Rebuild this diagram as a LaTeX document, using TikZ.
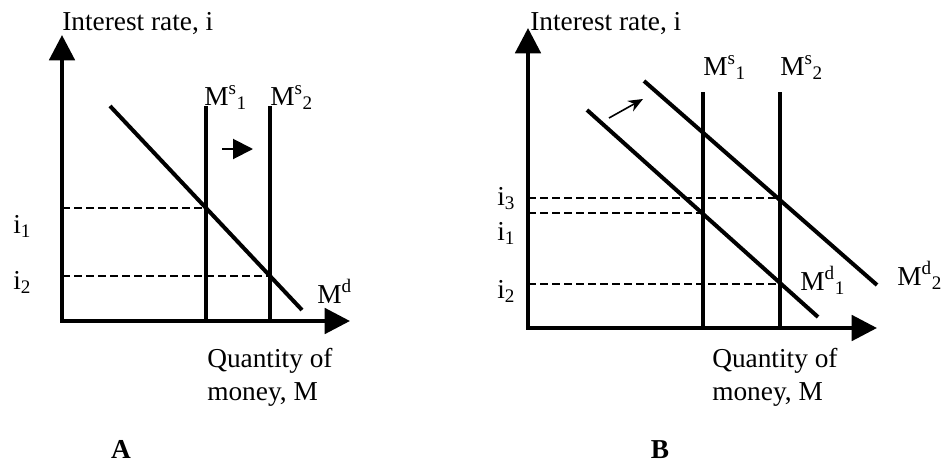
\documentclass[tikz,border=0pt]{standalone}
\usepackage{fontspec}
\setmainfont{Liberation Serif}
\usetikzlibrary{arrows.meta}
\begin{document}
\begin{tikzpicture}[x=0.75pt,y=-0.75pt,
  axis/.style={line width=3pt,{Triangle[length=19pt,width=19pt]}-{Triangle[length=19pt,width=19pt]}},
  curve/.style={line width=3pt},
  guide/.style={line width=1.1pt,dash pattern=on 6pt off 3pt},
  lbl/.style={anchor=base west,inner sep=0pt,font=\fontsize{20.5}{24}\selectfont}]
  \useasboundingbox (0,0) rectangle (941,464);
  % Panel A: la oferta monetaria se desplaza a la derecha
  \coordinate (oA) at (62,321);
  \coordinate (topA) at (62,35);
  \coordinate (endA) at (350,321);
  \coordinate (s1A) at (206,106);
  \coordinate (s2A) at (270,106);
  \coordinate (e1A) at (206,208);
  \coordinate (e2A) at (270,276);
  \draw[axis] (topA) -- (oA) -- (endA);
  \draw[curve] (s1A) -- (oA -| s1A);
  \draw[curve] (s2A) -- (oA -| s2A);
  \draw[curve] (110,106) -- (302,310);
  \draw[guide] (oA |- e1A) -- (e1A);
  \draw[guide] (oA |- e2A) -- (e2A);
  \coordinate (shA) at (222,149);
  \coordinate (shB) at (253,149);
  \draw[line width=1.5pt,-{Triangle[length=15pt,width=15pt]}] (shA) -- (shB);
  \node[lbl] (yA) at (62,31) {Interest rate, i};
  \node[lbl] (ms1A) at (204,105) {M\textsuperscript{s}\textsubscript{1}};
  \node[lbl] (ms2A) at (270,105) {M\textsuperscript{s}\textsubscript{2}};
  \node[lbl] (mdA) at (317,303) {M\textsuperscript{d}};
  \node[lbl] (i1A) at (13,233) {i\textsubscript{1}};
  \node[lbl] (i2A) at (13,289) {i\textsubscript{2}};
  \node[lbl] (xA) at (207,367) {Quantity of};
  \node[lbl] (xA2) at (207,400) {money, M};
  \node[lbl,anchor=base,font=\fontsize{20.5}{24}\selectfont\bfseries] (capA) at (121,458) {A};
  % Panel B: se desplazan la oferta y la demanda
  \coordinate (oB) at (528,328);
  \coordinate (topB) at (528,28);
  \coordinate (endB) at (877,328);
  \coordinate (s1B) at (703,92);
  \coordinate (s2B) at (780,92);
  \coordinate (e1B) at (703,213);
  \coordinate (e2B) at (780,284);
  \coordinate (e3B) at (780,198);
  \draw[axis] (topB) -- (oB) -- (endB);
  \draw[curve] (s1B) -- (oB -| s1B);
  \draw[curve] (s2B) -- (oB -| s2B);
  \draw[curve] (587,110) -- (818,317);
  \draw[curve] (644,81) -- (877,285);
  \draw[guide] (oB |- e3B) -- (e3B);
  \draw[guide] (oB |- e1B) -- (e1B);
  \draw[guide] (oB |- e2B) -- (e2B);
  \coordinate (shC) at (609,118);
  \coordinate (shD) at (643,99);
  \draw[line width=1.2pt,-{Stealth[length=11pt,width=9pt]}] (shC) -- (shD);
  \node[lbl] (yB) at (530,31) {Interest rate, i};
  \node[lbl] (ms1B) at (703,75) {M\textsuperscript{s}\textsubscript{1}};
  \node[lbl] (ms2B) at (780,75) {M\textsuperscript{s}\textsubscript{2}};
  \node[lbl] (md1B) at (800,290) {M\textsuperscript{d}\textsubscript{1}};
  \node[lbl] (md2B) at (897,285) {M\textsuperscript{d}\textsubscript{2}};
  \node[lbl] (i3B) at (497,205) {i\textsubscript{3}};
  \node[lbl] (i1B) at (497,240) {i\textsubscript{1}};
  \node[lbl] (i2B) at (497,298) {i\textsubscript{2}};
  \node[lbl] (xB) at (712,367) {Quantity of};
  \node[lbl] (xB2) at (712,400) {money, M};
  \node[lbl,anchor=base,font=\fontsize{20.5}{24}\selectfont\bfseries] (capB) at (660,458) {B};
\end{tikzpicture}
\end{document}
